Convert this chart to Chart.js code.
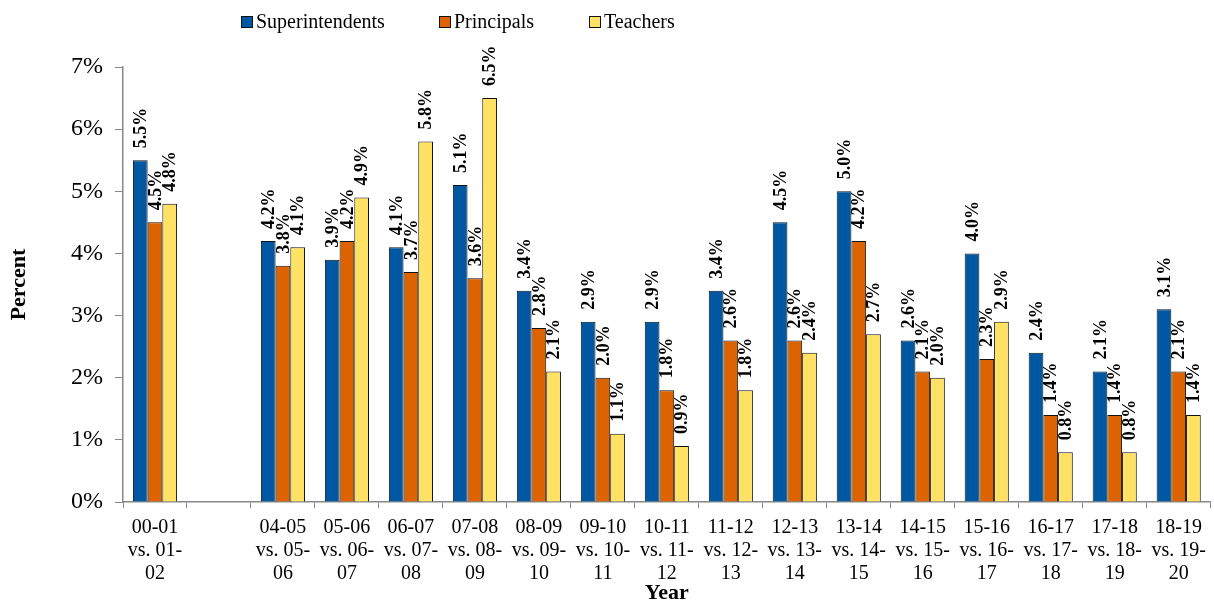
<!DOCTYPE html>
<html>
<head>
<meta charset="utf-8">
<script src="https://cdn.jsdelivr.net/npm/chart.js@4/dist/chart.umd.min.js"></script>
<style>
  html, body { margin: 0; padding: 0; background: #fff; }
  #wrap { width: 1214px; height: 607px; }
</style>
</head>
<body>
<div id="wrap"><canvas id="myChart"></canvas></div>
<script>
const FONT = '"Liberation Serif", "Times New Roman", serif'

// year pairs (empty slot where 01-02 .. 03-04 are missing)
const years = [
  ['00-01', 'vs. 01-', '02'],
  '',
  ['04-05', 'vs. 05-', '06'],
  ['05-06', 'vs. 06-', '07'],
  ['06-07', 'vs. 07-', '08'],
  ['07-08', 'vs. 08-', '09'],
  ['08-09', 'vs. 09-', '10'],
  ['09-10', 'vs. 10-', '11'],
  ['10-11', 'vs. 11-', '12'],
  ['11-12', 'vs. 12-', '13'],
  ['12-13', 'vs. 13-', '14'],
  ['13-14', 'vs. 14-', '15'],
  ['14-15', 'vs. 15-', '16'],
  ['15-16', 'vs. 16-', '17'],
  ['16-17', 'vs. 17-', '18'],
  ['17-18', 'vs. 18-', '19'],
  ['18-19', 'vs. 19-', '20']
]

const superintendents = [5.5, null, 4.2, 3.9, 4.1, 5.1, 3.4, 2.9, 2.9, 3.4, 4.5, 5.0, 2.6, 4.0, 2.4, 2.1, 3.1]
const principals      = [4.5, null, 3.8, 4.2, 3.7, 3.6, 2.8, 2.0, 1.8, 2.6, 2.6, 4.2, 2.1, 2.3, 1.4, 1.4, 2.1]
const teachers        = [4.8, null, 4.1, 4.9, 5.8, 6.5, 2.1, 1.1, 0.9, 1.8, 2.4, 2.7, 2.0, 2.9, 0.8, 0.8, 1.4]

const yTicks = [0, 1, 2, 3, 4, 5, 6, 7]

const colors = ['#0058A2', '#DD6200', '#FFE264']

// rotated value labels above each bar
const barLabels = {
  id: 'barLabels',
  afterDatasetsDraw(chart) {
    const ctx = chart.ctx
    ctx.save()
    ctx.font = 'bold 18px ' + FONT
    ctx.fillStyle = '#000'
    ctx.textAlign = 'left'
    ctx.textBaseline = 'middle'
    chart.data.datasets.forEach((ds, i) => {
      chart.getDatasetMeta(i).data.forEach((bar, j) => {
        let v = ds.data[j]
        if (v === null) return
        ctx.save()
        ctx.translate(bar.x + 1, bar.y - 12)
        ctx.rotate(-Math.PI / 2)
        ctx.fillText(v.toFixed(1) + '%', 0, 0)
        ctx.restore()
      })
    })
    ctx.restore()
  }
}

// excel-style legend along the top
const topLegend = {
  id: 'topLegend',
  afterDraw(chart) {
    const ctx = chart.ctx
    const spots = [241, 439, 589]
    ctx.save()
    ctx.font = '20px ' + FONT
    ctx.textBaseline = 'middle'
    ctx.textAlign = 'left'
    chart.data.datasets.forEach((ds, i) => {
      let x = spots[i]
      ctx.fillStyle = ds.backgroundColor
      ctx.fillRect(x, 16.5, 11, 11)
      ctx.strokeStyle = '#111'
      ctx.lineWidth = 1
      ctx.strokeRect(x + 0.5, 16.5, 11, 11)
      ctx.fillStyle = '#000'
      ctx.fillText(ds.label, x + 15, 22.5)
    })
    ctx.restore()
  }
}

const ctx = document.getElementById('myChart')

new Chart(ctx, {
  type: 'bar',
  data: {
    labels: years,
    datasets: [
      { label: 'Superintendents', data: superintendents, backgroundColor: colors[0] },
      { label: 'Principals', data: principals, backgroundColor: colors[1] },
      { label: 'Teachers', data: teachers, backgroundColor: colors[2] }
    ].map(d => Object.assign(d, {
      borderColor: '#111',
      borderWidth: 1,
      categoryPercentage: 0.69,
      barPercentage: 1
    }))
  },
  options: {
    responsive: true,
    maintainAspectRatio: false,
    animation: false,
    layout: { padding: { top: 67, right: 3, left: 0, bottom: 0 } },
    plugins: {
      legend: { display: false },
      tooltip: { enabled: false }
    },
    scales: {
      x: {
        afterFit: s => { s.height = 105 },
        grid: { display: true, drawOnChartArea: false, offset: true, tickLength: 6, color: '#888' },
        border: { color: '#888', width: 1.5 },
        ticks: {
          color: '#000', padding: 8, maxRotation: 0, autoSkip: false,
          font: { family: FONT, size: 20, lineHeight: 1.15 }
        },
        title: {
          display: true, text: 'Year', color: '#000',
          font: { family: FONT, size: 22, weight: 'bold' },
          padding: { top: 0, bottom: 0 }
        }
      },
      y: {
        min: 0,
        max: 7,
        afterFit: s => { s.width = 123 },
        afterBuildTicks: s => { s.ticks = yTicks.map(v => ({ value: v })) },
        grid: { display: true, drawOnChartArea: false, tickLength: 8, color: '#888' },
        border: { color: '#888', width: 1.5 },
        ticks: {
          color: '#000', padding: 12,
          font: { family: FONT, size: 24 },
          callback: v => v + '%'
        },
        title: {
          display: true, text: 'Percent', color: '#000',
          font: { family: FONT, size: 22, weight: 'bold' },
          padding: { top: 6, bottom: 0 }
        }
      }
    }
  },
  plugins: [barLabels, topLegend]
})
</script>
</body>
</html>
